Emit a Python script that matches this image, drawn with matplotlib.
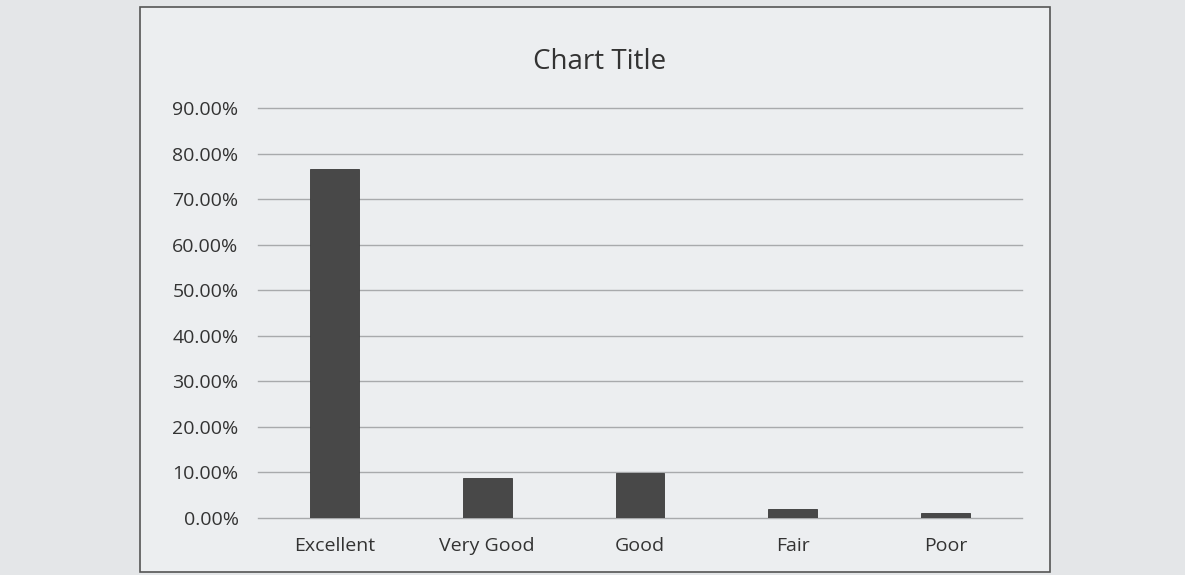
import matplotlib
matplotlib.use("Agg")
import matplotlib.pyplot as plt
from matplotlib.patches import Rectangle
from matplotlib.ticker import FuncFormatter

# ── Data ──────────────────────────────────────────────────────────────────────
categories = ["Excellent", "Very Good", "Good", "Fair", "Poor"]
shares     = [0.765, 0.087, 0.098, 0.020, 0.012]
y_ticks    = [0.0, 0.1, 0.2, 0.3, 0.4, 0.5, 0.6, 0.7, 0.8, 0.9]

plt.rcParams["font.family"] = ["Open Sans", "DejaVu Sans"]

fig = plt.figure(figsize=(11.85, 5.75), dpi=100)
fig.patch.set_facecolor("#e4e6e8")

# chart area box (printed sheet)
fig.patches.append(Rectangle((140 / 1185, 3 / 575), (1050 - 140) / 1185, 565 / 575,
                             transform=fig.transFigure, facecolor="#eceef0",
                             edgecolor="#555555", linewidth=1.2, zorder=-5))

ax = fig.add_axes([258 / 1185, 1 - 518 / 575, 764 / 1185, 410 / 575])
ax.set_zorder(2)
ax.set_facecolor("none")

ax.bar(range(len(categories)), shares, width=0.32, color="#484848",
       edgecolor="#3a3a3a", linewidth=0.6, zorder=3)

ax.set_xlim(-0.5, len(categories) - 0.5)
ax.set_ylim(0, 0.9)
ax.set_yticks(y_ticks)
ax.yaxis.set_major_formatter(FuncFormatter(lambda v, p: f"{v * 100:.2f}%"))
ax.set_xticks(range(len(categories)))
ax.set_xticklabels(categories)

ax.grid(axis="y", color="#a8aaac", linewidth=1.0, zorder=0)
for gl in ax.get_ygridlines():
    gl.set_clip_on(False)
ax.tick_params(axis="both", length=0, labelsize=14, colors="#333333")
ax.tick_params(axis="y", pad=14)
ax.tick_params(axis="x", pad=14)
for s in ax.spines.values():
    s.set_visible(False)

fig.text(600 / 1185, 1 - 62 / 575, "Chart Title", ha="center", va="center",
         fontsize=20, color="#333333")

plt.savefig("out.png", dpi=100, facecolor=fig.get_facecolor())
